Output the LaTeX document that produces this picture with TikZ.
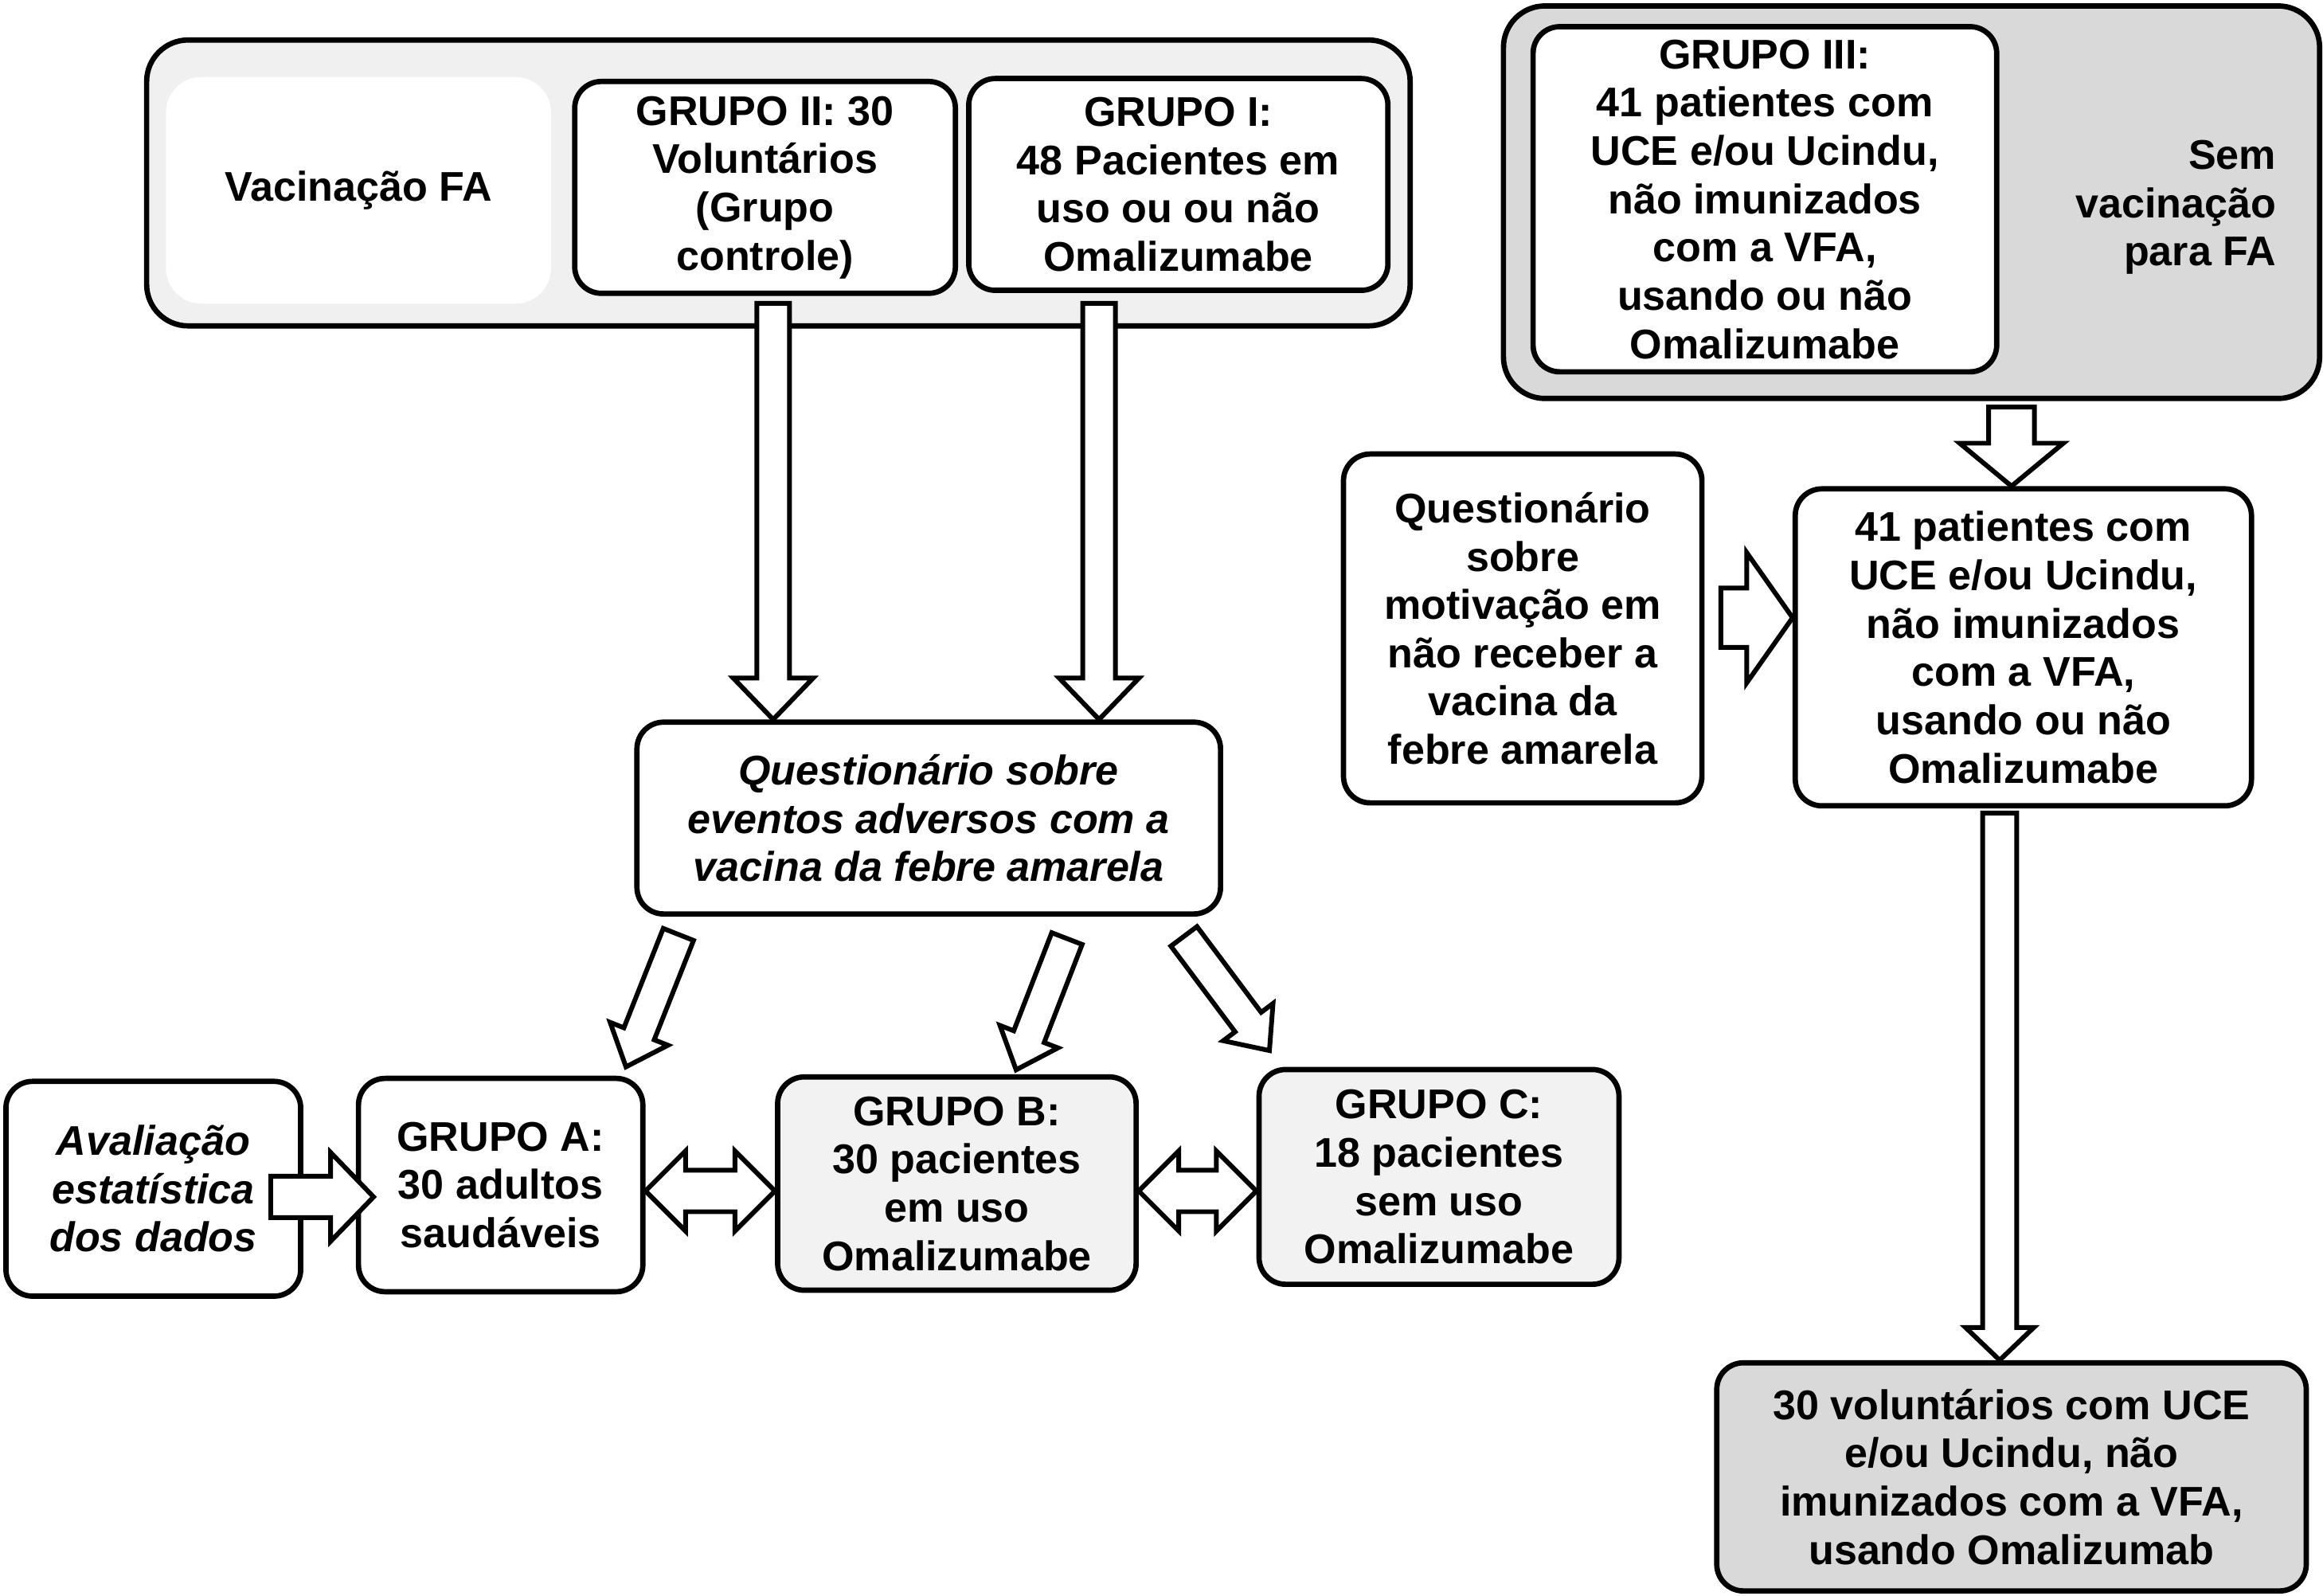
\documentclass[tikz,border=0pt]{standalone}
\usepackage{fontspec}
\setmainfont{Liberation Sans}
\usepackage{tikz}
\usetikzlibrary{calc}
\definecolor{lightbg}{gray}{0.94}
\definecolor{midbg}{gray}{0.85}
\definecolor{boxbg}{gray}{0.95}
% hollow block arrow: from, to, half shaft, half head, head length
\newcommand{\blockarrow}[5]{
  \coordinate (bah) at ($(#2)!#5!(#1)$);
  \draw[barrow] ($(#1)!#3!90:(#2)$) -- ($(bah)!#3!90:(#2)$) -- ($(bah)!#4!90:(#2)$) -- (#2)
    -- ($(bah)!#4!-90:(#2)$) -- ($(bah)!#3!-90:(#2)$) -- ($(#1)!#3!-90:(#2)$) -- cycle;
}
\newcommand{\dblarrow}[5]{
  \coordinate (dah) at ($(#1)!#5!(#2)$);
  \coordinate (dbh) at ($(#2)!#5!(#1)$);
  \draw[barrow] (#1) -- ($(dah)!#4!90:(#2)$) -- ($(dah)!#3!90:(#2)$) -- ($(dbh)!#3!90:(#2)$)
    -- ($(dbh)!#4!90:(#2)$) -- (#2) -- ($(dbh)!#4!-90:(#2)$) -- ($(dbh)!#3!-90:(#2)$)
    -- ($(dah)!#3!-90:(#2)$) -- ($(dah)!#4!-90:(#2)$) -- cycle;
}
\begin{document}
\begin{tikzpicture}[x=0.5pt,y=-0.5pt]
\tikzstyle{box}=[draw, line width=1.8pt, rounded corners=9pt, fill=white, align=center, inner sep=1pt, font=\fontsize{14}{16.3}\selectfont\bfseries]
\tikzstyle{ibox}=[box, font=\fontsize{14}{16.3}\selectfont\bfseries\itshape]
\tikzstyle{frame}=[draw, line width=1.8pt, rounded corners=14pt]
\tikzstyle{barrow}=[draw, line width=1.6pt, fill=white]
\useasboundingbox (0,0) rectangle (1568.3,1076.9);

% vaccinated groups
\node[frame, fill=lightbg, minimum width=426.5pt, minimum height=96.5pt] (fa) at (525.5,123.5) {};
\node[box, draw=none, rounded corners=12pt, minimum width=130pt, minimum height=76.5pt] (vac) at (242,128.5) {Vacinação FA};
\node[box, minimum width=128.5pt, minimum height=71.5pt] (gII) at (516.5,126.5) {GRUPO II: 30\\Voluntários\\(Grupo\\controle)};
\node[box, minimum width=141.5pt, minimum height=71.5pt] (gI) at (795.5,124.5) {GRUPO I:\\48 Pacientes em\\uso ou ou não\\Omalizumabe};

% not vaccinated
\node[frame, fill=midbg, minimum width=275.5pt, minimum height=132.5pt] (sem) at (1290.5,136.5) {};
\node[box, minimum width=156.5pt, minimum height=116.5pt] (gIII) at (1191.5,134.5) {GRUPO III:\\41 patientes com\\UCE e/ou Ucindu,\\não imunizados\\com a VFA,\\usando ou não\\Omalizumabe};
\node[font=\fontsize{14}{16.3}\selectfont\bfseries, align=right, anchor=east, inner sep=0pt] (semtxt) at (1537,140) {Sem\\vacinação\\para FA};

\node[box, minimum width=121pt, minimum height=117.75pt] (motiv) at (1028,424.25) {Questionário\\sobre\\motivação em\\não receber a\\vacina da\\febre amarela};
\node[box, minimum width=154pt, minimum height=107pt] (p41) at (1366,437) {41 patientes com\\UCE e/ou Ucindu,\\não imunizados\\com a VFA,\\usando ou não\\Omalizumabe};
\node[box, fill=midbg, minimum width=199pt, minimum height=77pt] (vol30) at (1358,997) {30 voluntários com UCE\\e/ou Ucindu, não\\imunizados com a VFA,\\usando Omalizumab};

% questionnaire and groups A, B, C
\node[ibox, minimum width=197pt, minimum height=64.75pt] (qev) at (627,552.25) {Questionário sobre\\eventos adversos com a\\vacina da febre amarela};
\node[ibox, minimum width=99.5pt, minimum height=72.5pt] (aval) at (103.5,802.5) {Avaliação\\estatística\\dos dados};
\node[box, minimum width=96pt, minimum height=72pt] (ga) at (338,800) {GRUPO A:\\30 adultos\\saudáveis};
\node[box, fill=boxbg, minimum width=121pt, minimum height=72pt] (gb) at (646,799) {GRUPO B:\\30 pacientes\\em uso\\Omalizumabe};
\node[box, fill=boxbg, minimum width=121.5pt, minimum height=72.5pt] (gc) at (971.5,794.5) {GRUPO C:\\18 pacientes\\sem uso\\Omalizumabe};

% arrow ends
\coordinate (g2s) at ([shift={(5.5,5)}]gII.south);
\coordinate (g1s) at ([shift={(-53.5,7)}]gI.south);
\coordinate (sems) at ([shift={(67.5,4)}]sem.south);
\coordinate (mote) at ([shift={(11,-7.25)}]motiv.east);
\coordinate (p41s) at ([shift={(-16,3)}]p41.south);
\coordinate (avale) at ([shift={(-22,5.5)}]aval.east);
\coordinate (gain) at ([xshift=6pt]avale -| ga.west);
\coordinate (abl) at ([yshift=-2pt]ga.east);
\coordinate (bcl) at ([yshift=-2.5pt]gb.east);
\coordinate (qa) at ([shift={(-169,12)}]qev.south);
\coordinate (qb) at ([shift={(93.3,14.8)}]qev.south);
\coordinate (qc) at ([shift={(172.3,13.3)}]qev.south);
\coordinate (ta) at ([shift={(84.6,-6)}]ga.north);
\coordinate (tb) at ([shift={(40,-3)}]gb.north);
\coordinate (tc) at ([shift={(-114.5,-11)}]gc.north);

\blockarrow{g2s}{g2s |- qev.north}{5.5pt}{13.5pt}{14pt}
\blockarrow{g1s}{g1s |- qev.north}{5.5pt}{13.5pt}{14pt}
\blockarrow{sems}{sems |- p41.north}{7.75pt}{17.5pt}{14.5pt}
\blockarrow{mote}{mote -| p41.west}{10pt}{22pt}{15.5pt}
\blockarrow{p41s}{p41s |- vol30.north}{5.75pt}{11.5pt}{11pt}
\blockarrow{avale}{gain}{7pt}{15pt}{14.5pt}
\blockarrow{qa}{ta}{5.5pt}{10.5pt}{12pt}
\blockarrow{qb}{tb}{5.5pt}{10.5pt}{12pt}
\blockarrow{qc}{tc}{5.5pt}{10.5pt}{12pt}
\dblarrow{abl}{abl -| gb.west}{7pt}{13.5pt}{13.5pt}
\dblarrow{bcl}{bcl -| gc.west}{7pt}{13.5pt}{13.5pt}
\end{tikzpicture}
\end{document}
